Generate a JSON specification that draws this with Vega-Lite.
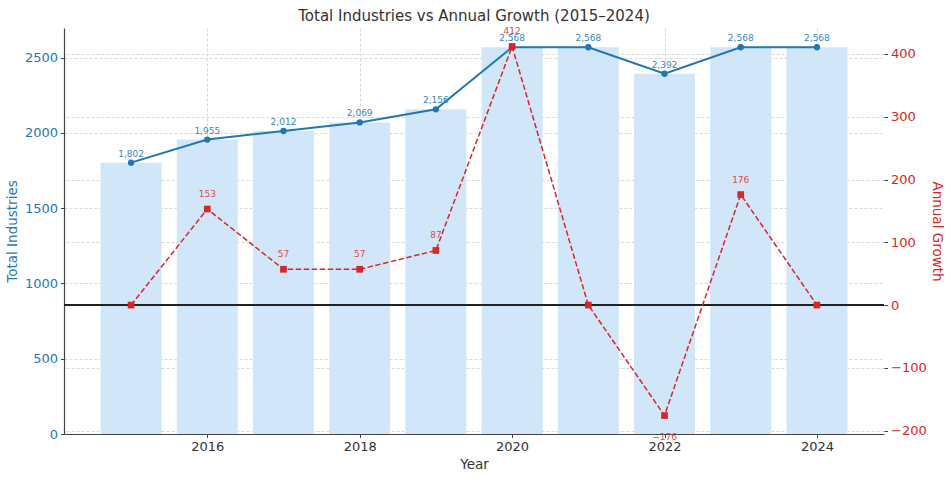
{
  "$schema": "https://vega.github.io/schema/vega-lite/v6.json",
  "autosize": {"type": "none"},
  "width": 820,
  "height": 406,
  "padding": {"left": 64, "top": 28, "right": 67, "bottom": 44},
  "background": "white",
  "config": {
    "view": {"stroke": null},
    "font": "DejaVu Sans",
    "axis": {
      "labelFont": "DejaVu Sans",
      "titleFont": "DejaVu Sans",
      "labelFontSize": 13,
      "titleFontSize": 13.5,
      "titleFontWeight": "normal",
      "gridDash": [3, 2],
      "gridColor": "#cfcfcf",
      "gridWidth": 0.8,
      "tickColor": "#444",
      "tickSize": 3.5,
      "domainColor": "#444",
      "domainWidth": 1.2
    }
  },
  "title": {
    "text": "Total Industries vs Annual Growth (2015–2024)",
    "font": "DejaVu Sans",
    "fontSize": 15,
    "fontWeight": "normal",
    "color": "#333333",
    "anchor": "middle",
    "offset": 3
  },
  "data": {
    "values": [
      {"Year": 2015, "Total": 1802, "Growth": 0},
      {"Year": 2016, "Total": 1955, "Growth": 153},
      {"Year": 2017, "Total": 2012, "Growth": 57},
      {"Year": 2018, "Total": 2069, "Growth": 57},
      {"Year": 2019, "Total": 2156, "Growth": 87},
      {"Year": 2020, "Total": 2568, "Growth": 412},
      {"Year": 2021, "Total": 2568, "Growth": 0},
      {"Year": 2022, "Total": 2392, "Growth": -176},
      {"Year": 2023, "Total": 2568, "Growth": 176},
      {"Year": 2024, "Total": 2568, "Growth": 0}
    ]
  },
  "encoding": {
    "x": {
      "field": "Year",
      "type": "quantitative",
      "scale": {"domain": [2014.12, 2024.88], "nice": false, "zero": false, "padding": 0},
      "axis": {
        "title": "Year",
        "values": [2016, 2018, 2020, 2022, 2024],
        "format": "d",
        "labelColor": "#333",
        "titleColor": "#333",
        "grid": true,
        "titlePadding": 4,
        "labelPadding": 3
      }
    }
  },
  "layer": [
    {
      "layer": [
        {
          "mark": {"type": "bar", "size": 61, "color": "#d1e7f9"},
          "encoding": {
            "y": {
              "field": "Total",
              "type": "quantitative",
              "scale": {"domain": [0, 2696], "nice": false},
              "axis": {
                "title": "Total Industries",
                "orient": "left",
                "values": [0, 500, 1000, 1500, 2000, 2500],
                "format": "d",
                "labelColor": "#1f77b4",
                "titleColor": "#1f77b4",
                "grid": true,
                "titlePadding": 5,
                "labelPadding": 3
              }
            }
          }
        },
        {
          "mark": {"type": "line", "color": "#1f77b4", "strokeWidth": 2},
          "encoding": {"y": {"field": "Total", "type": "quantitative"}}
        },
        {
          "mark": {"type": "point", "shape": "circle", "filled": true, "opacity": 1, "color": "#1f77b4", "size": 40},
          "encoding": {"y": {"field": "Total", "type": "quantitative"}}
        },
        {
          "mark": {"type": "text", "color": "#3a87c0", "fontSize": 9, "dy": -9, "font": "DejaVu Sans"},
          "encoding": {
            "y": {"field": "Total", "type": "quantitative"},
            "text": {"field": "Total", "type": "quantitative", "format": ","}
          }
        }
      ]
    },
    {
      "layer": [
        {
          "mark": {"type": "rule", "color": "#222", "strokeWidth": 1.2},
          "encoding": {
            "y": {
              "datum": 0,
              "type": "quantitative",
              "scale": {"domain": [-205.4, 441.4], "nice": false, "zero": false},
              "axis": {
                "title": "Annual Growth",
                "orient": "right",
                "values": [-200, -100, 0, 100, 200, 300, 400],
                "format": "d",
                "labelColor": "#d62728",
                "titleColor": "#d62728",
                "grid": true,
                "domain": false,
                "titlePadding": 3,
                "labelPadding": 3
              }
            },
            "x": {"value": 0},
            "x2": {"value": 820}
          }
        },
        {
          "mark": {"type": "line", "color": "#d62728", "strokeWidth": 1.5, "strokeDash": [5.5, 2.5]},
          "encoding": {"y": {"field": "Growth", "type": "quantitative"}}
        },
        {
          "mark": {"type": "point", "shape": "square", "filled": true, "opacity": 1, "color": "#d62728", "size": 45},
          "encoding": {"y": {"field": "Growth", "type": "quantitative"}}
        },
        {
          "transform": [{"filter": "datum.Growth > 0"}],
          "mark": {"type": "text", "color": "#dc4a4b", "fontSize": 9, "dy": -15, "font": "DejaVu Sans"},
          "encoding": {
            "y": {"field": "Growth", "type": "quantitative"},
            "text": {"field": "Growth", "type": "quantitative", "format": "d"}
          }
        },
        {
          "transform": [{"filter": "datum.Growth < 0"}],
          "mark": {"type": "text", "color": "#dc4a4b", "fontSize": 9, "dy": 21, "font": "DejaVu Sans"},
          "encoding": {
            "y": {"field": "Growth", "type": "quantitative"},
            "text": {"field": "Growth", "type": "quantitative", "format": "d"}
          }
        }
      ]
    }
  ],
  "resolve": {"scale": {"y": "independent"}}
}
